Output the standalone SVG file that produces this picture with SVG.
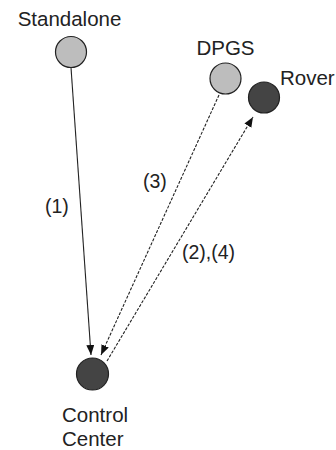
<svg xmlns="http://www.w3.org/2000/svg" width="336" height="450" viewBox="0 0 336 450">
  <style>
    text { font-family: "Liberation Sans", Arial, sans-serif; font-size: 20.5px; fill: #222; }
    .lbl { font-size: 19.5px; }
    .light { fill: #bdbdbd; stroke: #222; stroke-width: 1.2; }
    .dark { fill: #444; stroke: #222; stroke-width: 1.2; }
    .edge { fill: none; stroke: #222; stroke-width: 1.1; }
    .dash { stroke-dasharray: 3 1.5; }
  </style>
  <defs>
    <marker id="arr" markerUnits="userSpaceOnUse" markerWidth="11" markerHeight="9" refX="10" refY="4" orient="auto">
      <path d="M0,0 L10,4 L0,8 z" fill="#111"/>
    </marker>
  </defs>
  <rect width="336" height="450" fill="#fff"/>
  <g id="connectors">
    <line class="edge" x1="71" y1="67.5" x2="91" y2="355" marker-end="url(#arr)"/>
    <line class="edge dash" x1="219" y1="95" x2="101" y2="355" marker-end="url(#arr)"/>
    <line class="edge dash" x1="107" y1="361" x2="253" y2="117" marker-end="url(#arr)"/>
    <text class="lbl" x="45" y="213">(1)</text>
    <text class="lbl" x="143" y="188">(3)</text>
    <text class="lbl" x="182" y="259">(2),(4)</text>
  </g>
  <g id="standalone">
    <circle class="light" cx="71" cy="52" r="15.5"/>
    <text x="69.5" y="26" text-anchor="middle">Standalone</text>
  </g>
  <g id="dpgs">
    <circle class="light" cx="225.5" cy="78.5" r="15.5"/>
    <text x="225.5" y="55" text-anchor="middle">DPGS</text>
  </g>
  <g id="rover">
    <circle class="dark" cx="264" cy="97.5" r="15.5"/>
    <text x="280" y="85">Rover</text>
  </g>
  <g id="control-center">
    <circle class="dark" cx="92.5" cy="374" r="16"/>
    <text x="62" y="422">Control</text>
    <text x="62" y="446">Center</text>
  </g>
</svg>
